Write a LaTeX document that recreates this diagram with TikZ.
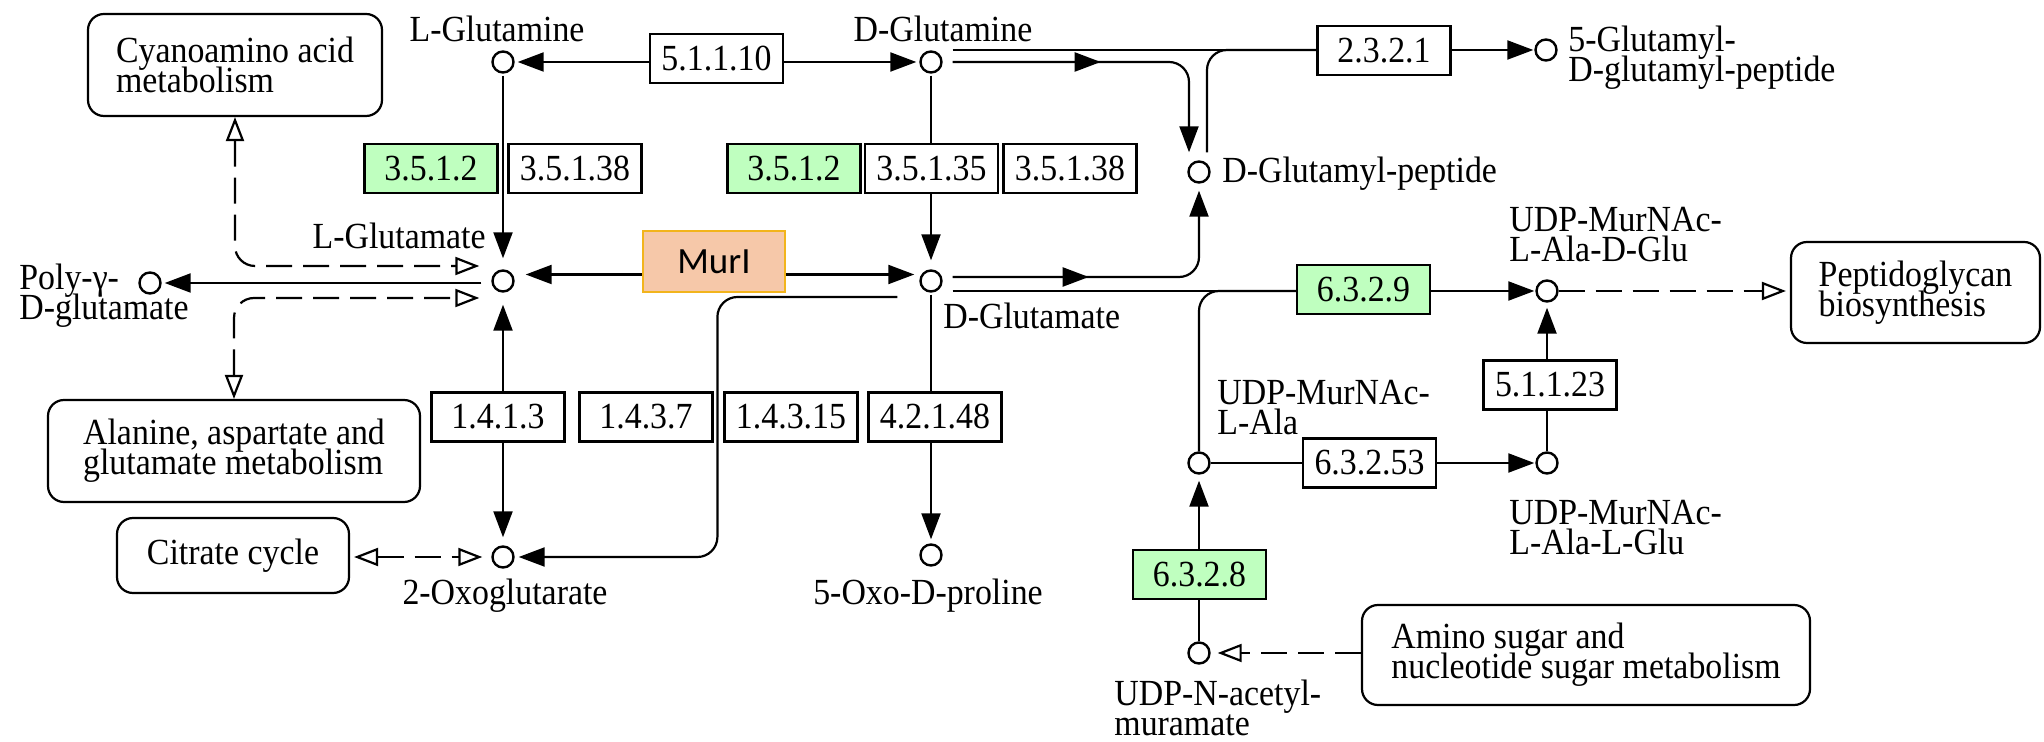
\documentclass[tikz,border=0pt]{standalone}
\usepackage{fontspec}
\setmainfont{Liberation Serif}[FakeStretch=0.92]
\newfontfamily\calibrifont{Carlito}
\usetikzlibrary{arrows.meta,backgrounds,decorations.markings}

\definecolor{ecgreen}{HTML}{BFFFBF}
\definecolor{murfill}{HTML}{F6C8A9}
\definecolor{murline}{HTML}{F2B41C}

\newcommand\kgfont{\fontsize{18.4}{15}\selectfont\lineskiplimit=-20pt\relax}
\newcommand\murifont{\calibrifont\fontsize{18.5}{20}\selectfont}

\tikzset{
  ftip/.tip={Triangle[length=13pt,width=9.5pt]},
  otip/.tip={Triangle[open,length=12pt,width=9pt]},
  cpd/.style={circle, draw, fill=white, line width=1.2pt, minimum size=10.5pt, inner sep=0pt},
  ec/.style={rectangle, draw, fill=white, line width=1.1pt, minimum width=66.5pt,
             minimum height=24.5pt, inner sep=0pt, font=\kgfont},
  ecg/.style={ec, fill=ecgreen},
  murbox/.style={rectangle, draw=murline, fill=murfill, line width=1.3pt,
                 minimum width=71pt, minimum height=30.5pt, inner sep=0pt, font=\murifont},
  mapbox/.style={rectangle, draw, fill=white, rounded corners=8pt, line width=1.1pt,
                 align=left, inner sep=0pt, font=\kgfont},
  lbl/.style={inner sep=0pt, align=left, font=\kgfont},
  ln/.style={line width=1.1pt},
  arr/.style={ln, -{ftip}},
  dsh/.style={ln, dash pattern=on 13pt off 5.5pt},
  midtip/.style={postaction={decorate, decoration={markings,
                 mark=at position #1 with {\arrow{ftip}}}}},
}

\begin{document}
\begin{tikzpicture}[x=0.5pt, y=-0.5pt]
\useasboundingbox (0,0) rectangle (2044,742);

% compounds
\node[cpd] (cLGln) at (503,62) {};
\node[cpd] (cDGln) at (931,62) {};
\node[cpd] (cLGlu) at (503,281) {};
\node[cpd] (cDGlu) at (931,281) {};
\node[cpd] (cPoly) at (150,283) {};
\node[cpd] (cDGP)  at (1199,172) {};
\node[cpd] (c5G)   at (1546,50) {};
\node[cpd] (cUDG)  at (1547,291) {};
\node[cpd] (cULA)  at (1199,463) {};
\node[cpd] (cULG)  at (1547,463) {};
\node[cpd] (cUNA)  at (1199,653) {};
\node[cpd] (cOxo)  at (503,557) {};
\node[cpd] (cPro)  at (931,555) {};

% compound names (multi-line names are placed by the baseline of their last line)
\node[lbl, anchor=base]      (tLGln) at (497,42)   {L-Glutamine};
\node[lbl, anchor=base]      (tDGln) at (943,42)   {D-Glutamine};
\node[lbl, anchor=base east] (tLGlu) at (486,249)  {L-Glutamate};
\node[lbl, anchor=base west] (tDGlu) at (943,329)  {D-Glutamate};
\node[lbl, anchor=base west] (tPoly) at (19,320)   {Poly-γ-\\D-glutamate};
\node[lbl, anchor=base west] (tDGP)  at (1222,183) {D-Glutamyl-peptide};
\node[lbl, anchor=base west] (t5G)   at (1568,82)  {5-Glutamyl-\\D-glutamyl-peptide};
\node[lbl, anchor=base west] (tUDG)  at (1509,262) {UDP-MurNAc-\\L-Ala-D-Glu};
\node[lbl, anchor=base west] (tULA)  at (1217,435) {UDP-MurNAc-\\L-Ala};
\node[lbl, anchor=base west] (tULG)  at (1509,554) {UDP-MurNAc-\\L-Ala-L-Glu};
\node[lbl, anchor=base west] (tUNA)  at (1114,735) {UDP-N-acetyl-\\muramate};
\node[lbl, anchor=base]      (tOxo)  at (505,604)  {2-Oxoglutarate};
\node[lbl, anchor=base]      (tPro)  at (928,604)  {5-Oxo-D-proline};

% enzymes
\node[ec]     (e51110)  at (716.5,58.5)  {5.1.1.10};
\node[ecg]    (e3512a)  at (431,168.5)   {3.5.1.2};
\node[ec]     (e35138a) at (575,168.5)   {3.5.1.38};
\node[ecg]    (e3512b)  at (794,168.5)   {3.5.1.2};
\node[ec]     (e35135)  at (931.5,168.5) {3.5.1.35};
\node[ec]     (e35138b) at (1070,168.5)  {3.5.1.38};
\node[ec]     (e2321)   at (1384,50.5)   {2.3.2.1};
\node[murbox] (eMurI)   at (714,261.5)   {MurI};
\node[ecg]    (e6329)   at (1363.5,289.5){6.3.2.9};
\node[ec]     (e1413)   at (498,417)     {1.4.1.3};
\node[ec]     (e1437)   at (646,417)     {1.4.3.7};
\node[ec]     (e14315)  at (791,417)     {1.4.3.15};
\node[ec]     (e42148)  at (935,417)     {4.2.1.48};
\node[ec]     (e51123)  at (1550,385)    {5.1.1.23};
\node[ec]     (e63253)  at (1369.5,463)  {6.3.2.53};
\node[ecg]    (e6328)   at (1199.5,574.5){6.3.2.8};

% linked pathway maps
\node[mapbox, minimum width=147pt, minimum height=51pt]   (mCyano) at (235,65)      {Cyanoamino acid\\metabolism};
\node[mapbox, minimum width=186pt, minimum height=51pt]   (mAla)   at (234,451)     {Alanine, aspartate and\\glutamate metabolism};
\node[mapbox, minimum width=116pt, minimum height=37.5pt] (mCit)   at (233,555.5)   {Citrate cycle};
\node[mapbox, minimum width=124.5pt, minimum height=50.5pt] (mPep) at (1915.5,292.5) {Peptidoglycan\\biosynthesis};
\node[mapbox, minimum width=224pt, minimum height=50pt]   (mAmino) at (1586,655)    {Amino sugar and\\nucleotide sugar metabolism};

% helper points on the compound outlines
\coordinate (dU)   at ([yshift=7.5pt]cLGlu.west);
\coordinate (dL)   at ([yshift=-8.5pt]cLGlu.west);
\coordinate (dOx)  at ([xshift=-11pt,yshift=-8pt]cDGlu.west);
\coordinate (gTop) at ([xshift=5pt,yshift=6pt]cDGln.east);
\coordinate (gLow) at ([xshift=5pt]cDGln.east);
\coordinate (rUp)  at ([xshift=5pt,yshift=2pt]cDGlu.east);
\coordinate (rLo)  at ([xshift=5pt,yshift=-5pt]cDGlu.east);
\coordinate (dgpIn) at ([xshift=-5pt]cDGP.north);
\coordinate (dgpOut) at ([xshift=4pt]cDGP.north);

\begin{pgfonlayer}{background}
\fill[white] (0,0) rectangle (2044,742);

% glutamine / glutamate interconversions
\draw[arr, shorten >=1.5pt] (e51110.west |- cLGln) -- (cLGln.east);
\draw[arr, shorten >=1.5pt] (e51110.east |- cDGln) -- (cDGln.west);
\draw[arr, shorten <=1pt, shorten >=5.5pt] (cLGln.south) -- (cLGlu.north);
\draw[arr, shorten <=1pt, shorten >=4.5pt] (cDGln.south) -- (cDGlu.north);

% glutamate racemase
\draw[arr, shorten >=5.5pt] ([yshift=-6.5pt]eMurI.west) -- ([yshift=-6.5pt]eMurI.west -| cLGlu.east);
\draw[arr, shorten >=2.5pt] ([yshift=-6.5pt]eMurI.east) -- ([yshift=-6.5pt]eMurI.east -| cDGlu.west);

% L-glutamate side
\draw[arr, shorten <=5pt, shorten >=1.5pt] ([yshift=-1pt]cLGlu.west) -- ([yshift=-1pt]cLGlu.west -| cPoly.east);
\draw[dsh, {otip}-{otip}, shorten >=6pt, rounded corners=10pt]
  (mCyano.south) -- (mCyano.south |- dU) -- (dU);
\draw[dsh, {otip}-{otip}, shorten >=6pt, rounded corners=10pt]
  (mAla.north) -- (mAla.north |- dL) -- (dL);
\draw[ln, {ftip}-{ftip}, shorten <=6pt, shorten >=4pt] (cLGlu.south) -- (cOxo.north);
\draw[dsh, {otip}-{otip}, shorten <=2pt, shorten >=4.5pt] (mCit.east |- cOxo) -- (cOxo.west);

% D-glutamate side
\draw[arr, shorten <=1pt, shorten >=2pt] (cDGlu.south) -- (cPro.north);
\draw[arr, rounded corners=10pt, shorten >=2pt]
  (dOx) -- ([xshift=-3pt]e14315.west |- dOx) -- ([xshift=-3pt]e14315.west |- cOxo) -- (cOxo.east);

% D-glutamyl-peptide branch
\draw[ln] (gTop) -- (gTop -| e2321.west);
\draw[arr, shorten >=0.5pt] (e2321.east |- c5G) -- (c5G.west);
\draw[arr, rounded corners=10pt, shorten >=4pt, midtip=74pt]
  (gLow) -- (gLow -| dgpIn) -- (dgpIn);
\draw[ln, rounded corners=10pt, shorten <=4pt]
  (dgpOut) -- (dgpOut |- gTop) -- (gTop -| e2321.west);
\draw[arr, rounded corners=10pt, shorten >=3.5pt, midtip=68pt]
  (rUp) -- (rUp -| cDGP.south) -- (cDGP.south);

% murein precursor branch
\draw[ln] (rLo) -- (rLo -| e6329.west);
\draw[arr, shorten >=0.5pt] (e6329.east |- cUDG) -- (cUDG.west);
\draw[ln, rounded corners=10pt] (cULA.north) -- (cULA.north |- rLo) -- (e6329.west |- rLo);
\draw[ln] (cULA.east) -- (cULA.east -| e63253.west);
\draw[arr, shorten >=0.5pt] (e63253.east) -- (cULG.west);
\draw[ln] (cULG.north) -- (cULG.north |- e51123.south);
\draw[arr, shorten >=2.5pt] (cULG.north |- e51123.north) -- (cUDG.south);
\draw[ln] (cUNA.north) -- (cUNA.north |- e6328.south);
\draw[arr, shorten >=3pt] (cUNA.north |- e6328.north) -- (cULA.south);
\draw[dsh, -{otip}, shorten >=2pt] (cUDG.east) -- (cUDG.east -| mPep.west);
\draw[dsh, -{otip}, shorten >=3.5pt] (mAmino.west |- cUNA) -- (cUNA.east);
\end{pgfonlayer}
\end{tikzpicture}
\end{document}
